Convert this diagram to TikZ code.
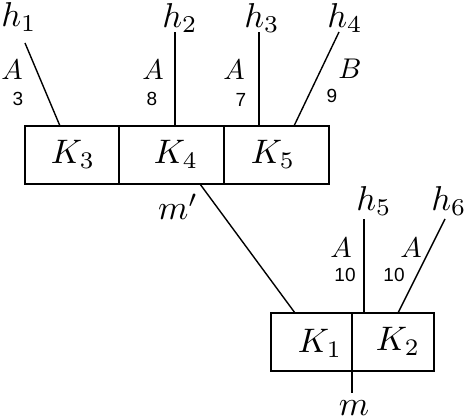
\documentclass[tikz,border=0pt]{standalone}
\usepackage{fontspec}
\usetikzlibrary{calc}
\newfontfamily\numfont{Liberation Sans}
\begin{document}
\begin{tikzpicture}[x=1pt,y=-1pt,line width=1.4pt,
  cell/.style={draw,line width=1.4pt,minimum height=58pt,anchor=north west,inner sep=0pt,outer sep=0pt},
  hlab/.style={inner sep=0pt,font=\normalsize,scale=3.45,transform shape},
  klab/.style={inner sep=0pt,font=\normalsize,scale=3.4,transform shape},
  alab/.style={inner sep=0pt,font=\normalsize,scale=2.85,transform shape},
  nlab/.style={inner sep=0pt,font=\numfont\fontsize{19}{21}\selectfont}]
\useasboundingbox (0,0) rectangle (466,420);
% top box cells
\node[cell,minimum width=94pt] (c3) at (25,126) {};
\node[cell,minimum width=105pt] (c4) at (119,126) {};
\node[cell,minimum width=105pt] (c5) at (224,126) {};
\node[klab] (k3) at (73,154) {$K_3$};
\node[klab] (k4) at (176,154) {$K_4$};
\node[klab] (k5) at (273,154) {$K_5$};
% bottom box cells
\node[cell,minimum width=81pt] (c1) at (271,313) {};
\node[cell,minimum width=82pt] (c2) at (352,313) {};
\node[klab] (k1) at (320,343) {$K_1$};
\node[klab] (k2) at (398,341) {$K_2$};
% labels
\node[hlab] (h1) at (19,17) {$h_1$};
\node[hlab] (h2) at (180,18) {$h_2$};
\node[hlab] (h3) at (262,18) {$h_3$};
\node[hlab] (h4) at (345,18) {$h_4$};
\node[hlab] (h5) at (374,201) {$h_5$};
\node[hlab] (h6) at (449,201) {$h_6$};
\node[hlab] (mp) at (178,207) {$m'$};
\node[hlab] (m) at (354,408) {$m$};
\node[alab] (a1) at (12,70) {$A$};
\node[nlab] (n1) at (18,99) {3};
\node[alab] (a2) at (153,70) {$A$};
\node[nlab] (n2) at (152,99) {8};
\node[alab] (a3) at (234,70) {$A$};
\node[nlab] (n3) at (241,100) {7};
\node[alab] (b4) at (350,69) {$B$};
\node[nlab] (n4) at (332,96) {9};
\node[alab] (a5) at (341,248) {$A$};
\node[nlab] (n5) at (345,275) {10};
\node[alab] (a6) at (411,248) {$A$};
\node[nlab] (n6) at (394,275) {10};
% line ends
\coordinate (e1) at (25,43);
\coordinate (e2) at (175,32);
\coordinate (e3) at (259,32);
\coordinate (e4) at (339,32);
\coordinate (e5) at (364,219);
\coordinate (e6) at (445,219);
\coordinate (em) at (352,393);
% connectors
\draw (c3.north west) ++(35,0) -- (e1);
\draw (c4.north west) ++(56,0) -- (e2);
\draw (c5.north west) ++(35,0) -- (e3);
\draw (c5.north west) ++(70,0) -- (e4);
\draw (c4.south west) ++(81,0) -- ($(c1.north west)+(24,0)$);
\draw (c2.north west) ++(12,0) -- (e5);
\draw (c2.north west) ++(46,0) -- (e6);
\draw (c2.south west) -- (em);
\end{tikzpicture}
\end{document}
